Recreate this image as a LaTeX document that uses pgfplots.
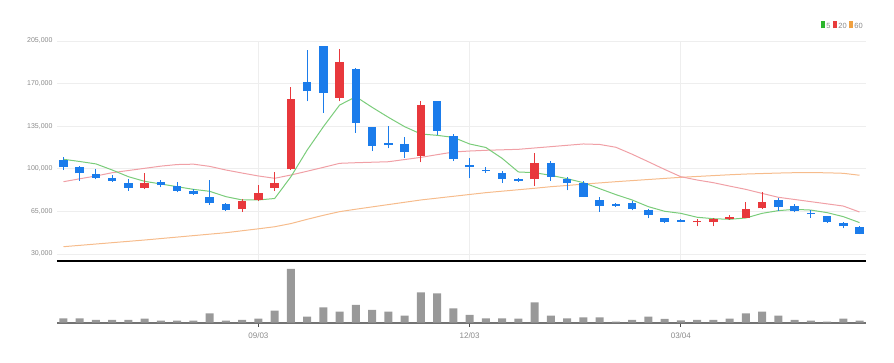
\documentclass[border=0pt]{standalone}
\usepackage{fontspec}
\setmainfont{Liberation Sans}
\usepackage{pgfplots}
\usepackage{pgfplotstable}
\pgfplotsset{compat=1.18}
\definecolor{cred}{HTML}{E8383C}
\definecolor{cblue}{HTML}{1B7CEB}
\definecolor{ma5}{HTML}{7ACC7A}
\definecolor{ma20}{HTML}{F0A0A6}
\definecolor{ma60}{HTML}{F6BC8C}
\definecolor{cgrid}{HTML}{EEEEEE}
\definecolor{cvol}{HTML}{999999}
\definecolor{clab}{HTML}{8A8A8A}
\definecolor{lg}{HTML}{2DB52D}
\definecolor{lr}{HTML}{E83C3C}
\definecolor{lo}{HTML}{F0A040}

% up (red) candles
\pgfplotstableread{
i o h l c
5 84300 96900 83200 88600
11 67000 74900 64600 73300
12 74400 86500 73300 79900
13 84300 97500 81600 88600
14 99600 167500 99000 157100
17 158200 198200 155400 187800
22 110600 155400 105200 152800
29 91400 112800 86000 105100
39 55900 58700 52700 57300
40 56500 59200 52700 58700
41 58900 62400 58000 60400
42 59700 72900 59200 66900
43 67500 81100 66900 72900
}\uptab

% down (blue) candles
\pgfplotstableread{
i o h l c
0 107230 110000 99000 101230
1 101200 102000 90200 96300
2 95760 99600 91400 92470
3 92500 94700 89500 90000
4 88600 91400 82100 84300
6 89200 90800 84800 86400
7 85900 89500 80700 81800
8 81600 83700 78600 79100
9 77200 90800 70600 71700
10 71200 71700 65700 66200
15 171300 197600 155400 163700
16 200600 200600 146200 162600
18 181800 182600 129800 137500
19 134700 134700 114500 118900
20 121000 135300 116700 119500
21 120000 126000 109000 113400
23 155400 156000 127600 131400
24 127000 128700 106300 107900
25 103000 108500 92400 101300
26 99400 101300 96900 98000
27 96900 98100 88200 92000
28 92000 92500 89200 89800
30 105100 106800 90300 93600
31 92000 93600 82300 88200
32 88200 90300 76700 76700
33 74000 76700 64700 69600
34 71200 72300 69000 69600
35 71800 73400 65800 66900
36 66300 66900 59200 61900
37 59200 59800 55400 56500
38 58100 58700 55900 56500
44 74000 75700 65300 68600
45 69100 71300 64200 65300
46 63800 65800 59700 62500
47 60900 61500 55400 56000
48 55400 56500 51000 52700
49 52100 53200 46100 46700
}\dntab

% moving averages
\pgfplotstableread{
i m5 m20 m60
0 107800 89400 36000
1 106000 91800 37100
2 104000 94100 38200
3 99000 96800 39300
4 93500 98600 40400
5 89700 100400 41500
6 87500 102200 42700
7 85300 103500 43900
8 83100 103800 45100
9 81500 102000 46300
10 77100 99000 47500
11 74400 96500 49100
12 74400 94100 50700
13 75600 92200 52400
14 93500 94900 55000
15 115400 98000 58500
16 134600 101200 61800
17 152400 104500 64800
18 159200 105000 66800
19 150500 105400 68700
20 142300 105800 70600
21 134600 107600 72500
22 128600 109400 74400
23 127500 111600 75900
24 125800 113800 77400
25 120400 114600 78900
26 117500 115200 80400
27 108600 115600 81600
28 97400 116000 82800
29 96800 117100 84000
30 94600 118200 85300
31 91900 119300 86300
32 88600 120400 87400
33 83700 120000 88400
34 78800 117700 89400
35 74400 112000 90300
36 68900 105800 91200
37 65100 99500 92100
38 63400 93500 93000
39 60200 90800 93700
40 59000 88600 94400
41 58500 85800 95100
42 59600 83100 95700
43 63400 79800 96100
44 65600 76600 96500
45 66700 74800 96800
46 66100 73000 96900
47 64000 71200 96700
48 60700 69400 96300
49 55800 64500 94700
}\matab

% volume
\pgfplotstableread{
i v
0 43
1 43
2 27
3 27
4 27
5 40
6 20
7 20
8 20
9 93
10 20
11 27
12 40
13 120
14 537
15 60
16 153
17 110
18 177
19 127
20 110
21 70
22 303
23 293
24 143
25 77
26 43
27 43
28 40
29 203
30 70
31 43
32 53
33 53
34 10
35 27
36 60
37 37
38 23
39 27
40 27
41 40
42 93
43 110
44 70
45 27
46 20
47 10
48 40
49 20
}\voltab

\begin{document}
\begin{tikzpicture}
\useasboundingbox (0,0) rectangle (894pt,363pt);
\begin{axis}[
  at={(57pt,102pt)}, anchor=south west,
  scale only axis, width=809pt, height=220pt,
  xmin=-0.4, xmax=49.4, ymin=24250, ymax=205000,
  axis x line*=bottom, axis y line*=left,
  x axis line style={black, line width=1.3pt},
  y axis line style={draw=none},
  xtick={12,25,38}, xticklabels={},
  ytick={30000,65000,100000,135000,170000,205000},
  yticklabels={{30,000},{65,000},{100,000},{135,000},{170,000},{205,000}},
  scaled y ticks=false,
  yticklabel style={font=\fontsize{7}{8}\selectfont, text=clab, xshift=-1pt},
  ymajorgrids, xmajorgrids,
  grid style={cgrid, line width=0.8pt},
  major tick length=0pt,
  clip=true,
]
\addplot[ma60, line width=1pt, mark=none] table[x=i, y=m60] \matab;
\addplot[ma20, line width=1pt, mark=none] table[x=i, y=m20] \matab;
\addplot[ma5, line width=1pt, mark=none] table[x=i, y=m5] \matab;
% wicks
\addplot[draw=none, mark=none, error bars/.cd, y dir=plus, y explicit, error mark=none, error bar style={line width=1pt, draw=cred}] table[x=i, y=l, y error plus expr=\thisrow{h}-\thisrow{l}] \uptab;
\addplot[draw=none, mark=none, error bars/.cd, y dir=plus, y explicit, error mark=none, error bar style={line width=1pt, draw=cblue}] table[x=i, y=l, y error plus expr=\thisrow{h}-\thisrow{l}] \dntab;
% bodies
\addplot[draw=none, mark=none, error bars/.cd, y dir=plus, y explicit, error mark=none, error bar style={line width=8.5pt, draw=cred}] table[x=i, y=o, y error plus expr=\thisrow{c}-\thisrow{o}] \uptab;
\addplot[draw=none, mark=none, error bars/.cd, y dir=plus, y explicit, error mark=none, error bar style={line width=8.5pt, draw=cblue}] table[x=i, y=c, y error plus expr=\thisrow{o}-\thisrow{c}] \dntab;
\end{axis}

\begin{axis}[
  at={(57pt,40.3pt)}, anchor=south west,
  scale only axis, width=809pt, height=60pt,
  xmin=-0.4, xmax=49.4, ymin=0, ymax=600,
  axis x line*=bottom, axis y line=none,
  x axis line style={draw=black!55, line width=1.8pt},
  xtick={12,25,38}, xticklabels={09/03,12/03,03/04},
  xticklabel style={font=\fontsize{8}{9}\selectfont, text=clab, yshift=-2pt},
  ytick=\empty,
  tick align=outside, major tick length=4pt,
  tick style={black!70, line width=0.8pt},
]
\addplot[ybar, bar width=8pt, fill=cvol, draw=none] table[x=i, y=v] \voltab;
\end{axis}

\node[anchor=east, inner sep=0pt, font=\fontsize{7.5}{9}\selectfont, text=clab] at (863pt,338pt)
  {\textcolor{lg}{\rule{4pt}{7pt}}\,5\,\,\textcolor{lr}{\rule{4pt}{7pt}}\,20\,\,\textcolor{lo}{\rule{4pt}{7pt}}\,60};
\end{tikzpicture}
\end{document}
